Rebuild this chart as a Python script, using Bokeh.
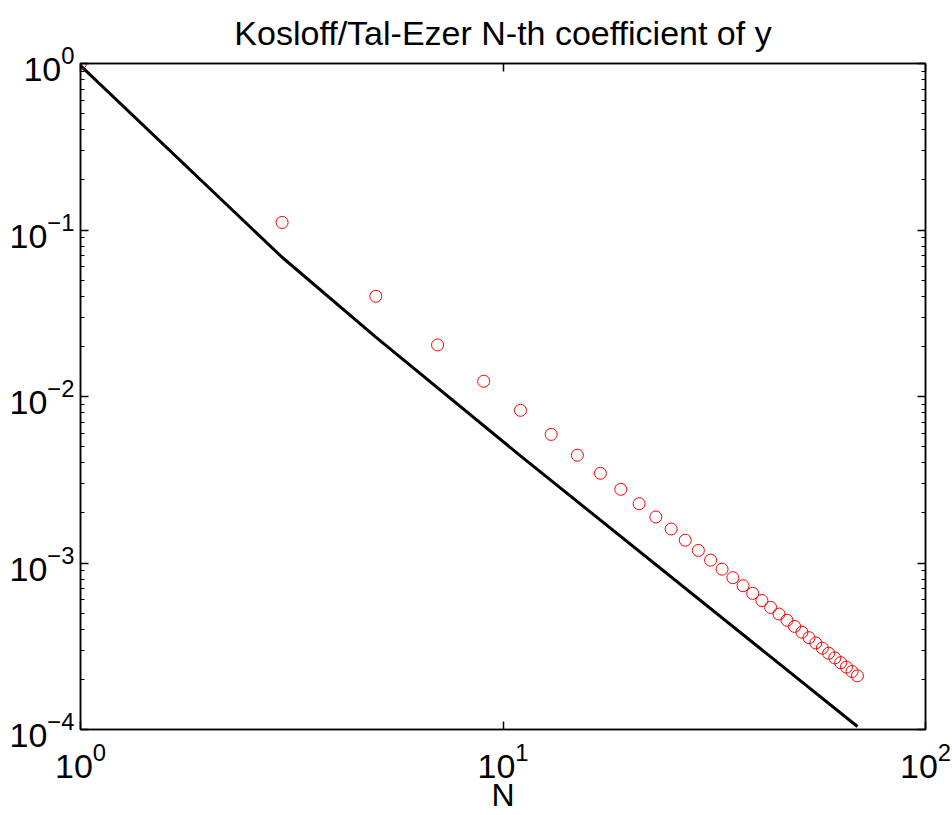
from bokeh.plotting import figure
from bokeh.models import LogAxis, Range1d, FixedTicker, ColumnDataSource
from bokeh.embed import file_html
from bokeh.resources import INLINE

# data
n_circles = [1, 3, 5, 7, 9, 11, 13, 15, 17, 19, 21, 23, 25, 27, 29, 31, 33, 35,
             37, 39, 41, 43, 45, 47, 49, 51, 53, 55, 57, 59, 61, 63, 65, 67, 69]
coef_circles = [1.0, 0.111, 0.0400, 0.0204, 0.01235, 0.00826, 0.00592, 0.00444,
                0.00346, 0.00277, 0.00227, 0.00189, 0.00160, 0.00137, 0.00119,
                0.00104, 0.000918, 0.000816, 0.000730, 0.000657, 0.000595,
                0.000541, 0.000494, 0.000453, 0.000416, 0.000384, 0.000356,
                0.000331, 0.000308, 0.000287, 0.000269, 0.000252, 0.000237,
                0.000223, 0.000210]
n_line = [1, 3, 5, 11, 69]
coef_line = [0.97, 0.0686, 0.02274, 0.004396, 0.0001042]

x_ticks = [1, 10, 100]
y_ticks = [1e-4, 1e-3, 1e-2, 1e-1, 1]
title_text = "Kosloff/Tal-Ezer N-th coefficient of y"
x_label = "N"

FONT = "Liberation Sans"

p = figure(width=952, height=815, x_axis_type="log", y_axis_type="log",
           x_range=Range1d(1, 100), y_range=Range1d(1e-4, 1),
           output_backend="svg", toolbar_location=None,
           min_border_left=80, min_border_right=27, min_border_top=63,
           min_border_bottom=85)

p.title.text = title_text
p.title.align = "center"
p.title.text_font = FONT
p.title.text_font_size = "34px"
p.title.text_font_style = "normal"
p.title.text_color = "black"
p.title.standoff = 23

p.grid.visible = False
p.outline_line_color = "black"
p.outline_line_width = 1.5
p.background_fill_color = "white"
p.border_fill_color = "white"

y_minor = [m * 10.0 ** d for d in range(-4, 0) for m in range(2, 10)]
yt = FixedTicker(ticks=y_ticks, minor_ticks=y_minor)
xt = FixedTicker(ticks=x_ticks, minor_ticks=[])


def style(ax, labels=True):
    ax.axis_line_color = "black"
    ax.axis_line_width = 1.5
    ax.major_tick_line_color = "black"
    ax.major_tick_line_width = 1.5
    ax.minor_tick_line_color = "black"
    ax.minor_tick_line_width = 1
    ax.major_tick_in = 8
    ax.major_tick_out = 0
    ax.minor_tick_in = 4
    ax.minor_tick_out = 0
    ax.major_label_text_font = FONT
    ax.major_label_text_color = "black"
    if labels:
        ax.major_label_text_font_size = "34px"
    else:
        ax.major_label_text_font_size = "2px"
        ax.major_label_text_alpha = 0
        ax.major_label_standoff = 0


style(p.xaxis[0])
p.xaxis[0].ticker = xt
p.xaxis[0].major_label_standoff = 13
p.xaxis[0].axis_label = x_label
p.xaxis[0].axis_label_text_font = FONT
p.xaxis[0].axis_label_text_font_size = "32px"
p.xaxis[0].axis_label_text_font_style = "normal"
p.xaxis[0].axis_label_text_color = "black"
p.xaxis[0].axis_label_standoff = -4

style(p.yaxis[0])
p.yaxis[0].ticker = yt
p.yaxis[0].major_label_standoff = 6

top = LogAxis(ticker=FixedTicker(ticks=x_ticks, minor_ticks=[]))
style(top, labels=False)
p.add_layout(top, "above")
right = LogAxis(ticker=FixedTicker(ticks=y_ticks, minor_ticks=y_minor))
style(right, labels=False)
p.add_layout(right, "right")

src_c = ColumnDataSource(dict(x=n_circles, y=coef_circles))
src_l = ColumnDataSource(dict(x=n_line, y=coef_line))
p.line("x", "y", source=src_l, line_color="black", line_width=3)
p.scatter("x", "y", source=src_c, marker="circle", size=12,
          fill_color=None, line_color="#ff0000", line_width=1)

open("out.html", "w").write(file_html(p, INLINE))
